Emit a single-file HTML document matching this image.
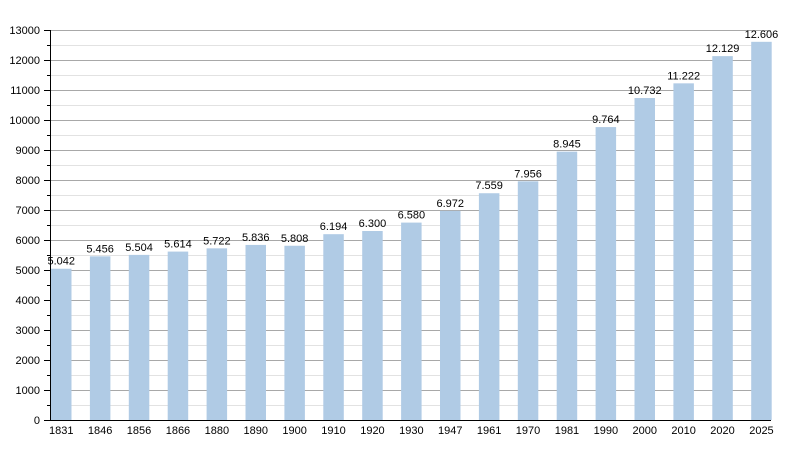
<!DOCTYPE html>
<html><head><meta charset="utf-8"><style>body{margin:0;background:#fff}</style></head><body>
<svg width="800" height="450" xmlns="http://www.w3.org/2000/svg" font-family="Liberation Sans, sans-serif" font-size="11">
<path d="M50 405.5H771M50 375.5H771M50 345.5H771M50 315.5H771M50 285.5H771M50 255.5H771M50 225.5H771M50 195.5H771M50 165.5H771M50 135.5H771M50 105.5H771M50 75.5H771M50 45.5H771" stroke="#e2e2e2"/>
<path d="M50 390.5H771M50 360.5H771M50 330.5H771M50 300.5H771M50 270.5H771M50 240.5H771M50 210.5H771M50 180.5H771M50 150.5H771M50 120.5H771M50 90.5H771M50 60.5H771M50 30.5H771" stroke="#a8a8a8"/>
<path d="M47 405.5H50M47 375.5H50M47 345.5H50M47 315.5H50M47 285.5H50M47 255.5H50M47 225.5H50M47 195.5H50M47 165.5H50M47 135.5H50M47 105.5H50M47 75.5H50M47 45.5H50M44 390.5H50M44 360.5H50M44 330.5H50M44 300.5H50M44 270.5H50M44 240.5H50M44 210.5H50M44 180.5H50M44 150.5H50M44 120.5H50M44 90.5H50M44 60.5H50M44 30.5H50" stroke="#000"/>
<g fill="#b0cbe5">
<rect x="51" y="268.74" width="20.5" height="151.26"/>
<rect x="89.9" y="256.32" width="20.5" height="163.68"/>
<rect x="128.8" y="254.88" width="20.5" height="165.12"/>
<rect x="167.7" y="251.58" width="20.5" height="168.42"/>
<rect x="206.6" y="248.34" width="20.5" height="171.66"/>
<rect x="245.5" y="244.92" width="20.5" height="175.08"/>
<rect x="284.4" y="245.76" width="20.5" height="174.24"/>
<rect x="323.3" y="234.18" width="20.5" height="185.82"/>
<rect x="362.2" y="231" width="20.5" height="189"/>
<rect x="401.1" y="222.6" width="20.5" height="197.4"/>
<rect x="440" y="210.84" width="20.5" height="209.16"/>
<rect x="478.9" y="193.23" width="20.5" height="226.77"/>
<rect x="517.8" y="181.32" width="20.5" height="238.68"/>
<rect x="556.7" y="151.65" width="20.5" height="268.35"/>
<rect x="595.6" y="127.08" width="20.5" height="292.92"/>
<rect x="634.5" y="98.04" width="20.5" height="321.96"/>
<rect x="673.4" y="83.34" width="20.5" height="336.66"/>
<rect x="712.3" y="56.13" width="20.5" height="363.87"/>
<rect x="751.2" y="41.82" width="20.5" height="378.18"/>
</g>
<g text-anchor="end">
<text x="40" y="424">0</text><text x="40" y="394">1000</text><text x="40" y="364">2000</text><text x="40" y="334">3000</text><text x="40" y="304">4000</text><text x="40" y="274">5000</text><text x="40" y="244">6000</text><text x="40" y="214">7000</text><text x="40" y="184">8000</text><text x="40" y="154">9000</text><text x="40" y="124">10000</text><text x="40" y="94">11000</text><text x="40" y="64">12000</text><text x="40" y="34">13000</text>
</g>
<g text-anchor="middle">
<text x="61.25" y="264.7">5.042</text><text x="100.15" y="252.3">5.456</text><text x="139.05" y="250.9">5.504</text><text x="177.95" y="247.6">5.614</text><text x="216.85" y="244.3">5.722</text><text x="255.75" y="240.9">5.836</text><text x="294.65" y="241.8">5.808</text><text x="333.55" y="230.2">6.194</text><text x="372.45" y="227">6.300</text><text x="411.35" y="218.6">6.580</text><text x="450.25" y="206.8">6.972</text><text x="489.15" y="189.2">7.559</text><text x="528.05" y="177.3">7.956</text><text x="566.95" y="147.7">8.945</text><text x="605.85" y="123.1">9.764</text><text x="644.75" y="94">10.732</text><text x="683.65" y="79.3">11.222</text><text x="722.55" y="52.1">12.129</text><text x="761.45" y="37.8">12.606</text>
<text x="61.25" y="434">1831</text><text x="100.15" y="434">1846</text><text x="139.05" y="434">1856</text><text x="177.95" y="434">1866</text><text x="216.85" y="434">1880</text><text x="255.75" y="434">1890</text><text x="294.65" y="434">1900</text><text x="333.55" y="434">1910</text><text x="372.45" y="434">1920</text><text x="411.35" y="434">1930</text><text x="450.25" y="434">1947</text><text x="489.15" y="434">1961</text><text x="528.05" y="434">1970</text><text x="566.95" y="434">1981</text><text x="605.85" y="434">1990</text><text x="644.75" y="434">2000</text><text x="683.65" y="434">2010</text><text x="722.55" y="434">2020</text><text x="761.45" y="434">2025</text>
</g>
<path d="M50.5 30V421M44 420.5H771" stroke="#000"/>
</svg>
</body></html>
